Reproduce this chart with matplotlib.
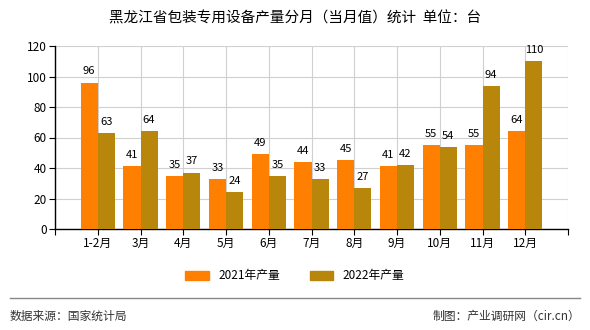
import numpy as np
import matplotlib
matplotlib.use('Agg')
import matplotlib.pyplot as plt
from matplotlib.lines import Line2D

plt.rcParams['font.family'] = ['Noto Sans CJK SC', 'DejaVu Sans']

months = ['1-2月', '3月', '4月', '5月', '6月', '7月', '8月', '9月', '10月', '11月', '12月']
y2021 = [96, 41, 35, 33, 49, 44, 45, 41, 55, 55, 64]
y2022 = [63, 64, 37, 24, 35, 33, 27, 42, 54, 94, 110]

c2021 = '#FF8000'
c2022 = '#B8860B'

fig = plt.figure(figsize=(5.9, 3.3), dpi=100)
ax = fig.add_axes([55 / 590, 1 - 229 / 330, 513 / 590, 183 / 330])

x = np.arange(len(months))
w = 0.4
ax.bar(x - w / 2, y2021, w, color=c2021, zorder=3)
ax.bar(x + w / 2, y2022, w, color=c2022, zorder=3)

for xi, v in zip(x, y2021):
    ax.text(xi - w / 2, v + 4, str(v), ha='center', va='bottom', fontsize=8)
for xi, v in zip(x, y2022):
    ax.text(xi + w / 2, v + 4, str(v), ha='center', va='bottom', fontsize=8)

n = len(months)
ax.set_xlim(-1, n)
ax.set_ylim(0, 120)
ax.set_yticks(range(0, 121, 20))
ax.set_xticks(list(range(-1, n + 1)))
ax.set_xticklabels([''] + months + [''], fontsize=8.5)
ax.tick_params(axis='y', labelsize=8.5, length=4, pad=2)
ax.tick_params(axis='x', length=4, pad=2)
ax.grid(True, color='#d0d0d0', linewidth=0.8, zorder=0)
for s in ['top', 'right']:
    ax.spines[s].set_visible(False)
ax.spines['left'].set_linewidth(1)
ax.spines['bottom'].set_linewidth(1)

fig.text(0.5, 1 - 18 / 330, '黑龙江省包装专用设备产量分月（当月值）统计  单位：台',
         ha='center', va='center', fontsize=10.5)

handles = [plt.Rectangle((0, 0), 1, 1, color=c2021),
           plt.Rectangle((0, 0), 1, 1, color=c2022)]
fig.legend(handles, ['2021年产量', '2022年产量'], loc='center',
           bbox_to_anchor=(0.5, 1 - 276 / 330), ncol=2, frameon=False,
           fontsize=8.5, handlelength=2, handleheight=0.8, columnspacing=2.5)

fig.add_artist(Line2D([10 / 590, 580 / 590], [1 - 298 / 330, 1 - 298 / 330],
                      color='#888888', linewidth=1))
fig.text(10 / 590, 1 - 316 / 330, '数据来源：国家统计局', ha='left', va='center',
         fontsize=8.5, color='#333333')
fig.text(580 / 590, 1 - 316 / 330, '制图：产业调研网（cir.cn）', ha='right', va='center',
         fontsize=8.5, color='#333333')

fig.savefig('out.png', dpi=100)
